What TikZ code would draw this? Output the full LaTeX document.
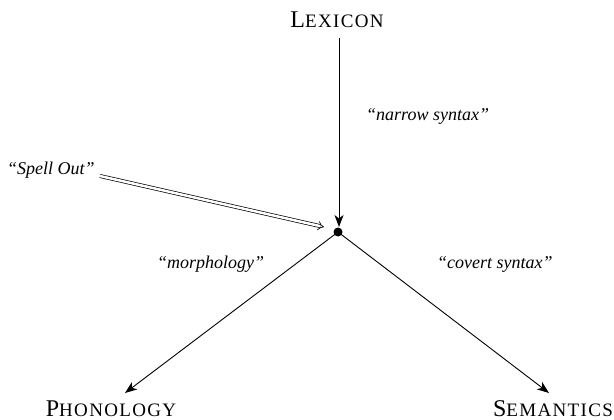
\documentclass[tikz,border=0pt]{standalone}
\usepackage{fontspec}
\setmainfont{Liberation Serif}
\usetikzlibrary{arrows.meta}
% level names: a full capital followed by smaller, spaced capitals
\newcommand{\capsA}[2]{{\fontsize{24}{28}\selectfont #1}{\fontsize{19}{22}\selectfont\addfontfeature{LetterSpace=7}#2}}
\tikzset{
  level/.style={inner sep=0pt, anchor=base},
  gloss/.style={inner sep=0pt, anchor=base west, font=\fontsize{18}{21}\selectfont\itshape},
  branch/.style={line width=0.9pt, -{Stealth[length=12pt, width=9pt, inset=3.5pt]}},
}
\begin{document}
\begin{tikzpicture}[x=1pt, y=-1pt]
  \useasboundingbox (0,0) rectangle (614,420);
  \node[level] (lex) at (337,28) {\capsA{L}{EXICON}};
  \node[level] (pho) at (111,416) {\capsA{P}{HONOLOGY}};
  \node[level] (sem) at (553,416) {\capsA{S}{EMANTICS}};
  \node[gloss] (spell) at (7,175) {``Spell Out''};
  \coordinate (spellend) at (100,176);
  \fill (338,232) circle (4.5pt) coordinate (hub);
  \coordinate (hubn) at (339,38);
  \draw[branch] (hubn) -- (339,227);
  \draw[branch] (hub) -- (125,393);
  \draw[branch] (hub) -- (549,393);
  \draw[double, double distance=2.5pt, line width=0.7pt, -{Implies}] (spellend) -- (324,227);
  \node[gloss] (narrow) at (366,121) {``narrow syntax''};
  \node[gloss] (morph) at (157,268) {``morphology''};
  \node[gloss] (covert) at (437,268) {``covert syntax''};
\end{tikzpicture}
\end{document}
